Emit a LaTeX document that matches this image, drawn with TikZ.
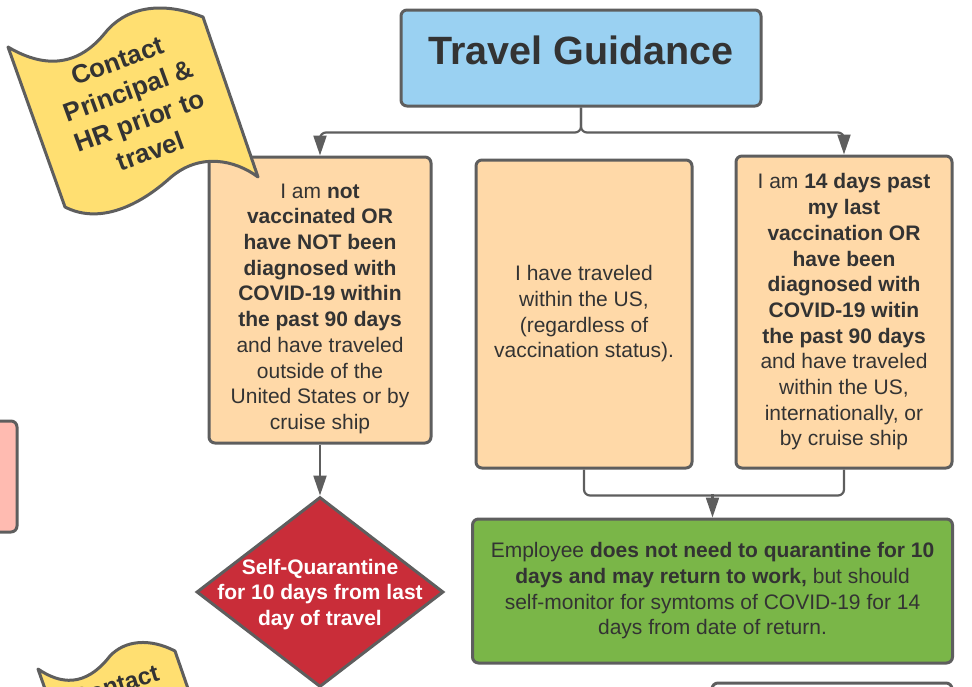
\documentclass[tikz,border=0pt]{standalone}
\usepackage{fontspec}
\setmainfont{Liberation Sans}
\usetikzlibrary{arrows.meta, shapes.geometric}
\definecolor{linegray}{HTML}{5E5E5E}
\definecolor{textgray}{HTML}{333333}
\definecolor{titleblue}{HTML}{9AD1F2}
\definecolor{peach}{HTML}{FFD9A8}
\definecolor{okgreen}{HTML}{7AB648}
\definecolor{stopred}{HTML}{C92D39}
\definecolor{flagyellow}{HTML}{FFDF71}
\definecolor{softpink}{HTML}{FFBBB1}
\newcommand{\bodyfont}{\fontsize{21}{25.7}\selectfont}
\tikzset{box/.style = {shape=rectangle, rounded corners=6pt, draw=linegray, line width=3pt, align=center, text=textgray, font=\bodyfont, inner sep=0pt}}
\tikzset{option/.style = {box, fill=peach}}
\tikzset{decision/.style = {shape=diamond, draw=linegray, line width=3pt, fill=stopred, inner sep=0pt}}
\tikzset{flag/.style = {draw=linegray, line width=3pt, fill=flagyellow, line join=round}}
\tikzset{flagtext/.style = {align=center, text=textgray, font=\fontsize{26}{32}\selectfont\bfseries}}
\tikzset{link/.style = {draw=linegray, line width=2.2pt, rounded corners=6pt}}
\tikzset{edge/.style = {link, -{Triangle[length=20pt, width=13pt]}}}

\begin{document}
\begin{tikzpicture}[x=1pt, y=-1pt]
        \useasboundingbox (0,0) rectangle (972,686);
        \clip (0,0) rectangle (972,686);
        \node[box, fill=titleblue, minimum width=360pt, minimum height=96pt, font=\fontsize{39.5}{47}\selectfont\bfseries, text height=28pt, text depth=16pt] (title) at (581,58) {Travel Guidance};
        \node[option, minimum width=222pt, minimum height=286pt] (notvax) at (320,300) {\rule{0pt}{32pt}I am \textbf{not}\\\textbf{vaccinated OR}\\\textbf{have NOT been}\\\textbf{diagnosed with}\\\textbf{COVID-19 within}\\\textbf{the past 90 days}\\and have traveled\\outside of the\\United States or by\\cruise ship};
        \draw[edge] (title.south) -- ++(0,25) -| (notvax.north);
        \node[option, minimum width=216pt, minimum height=308pt] (domestic) at (584,314) {I have traveled\\within the US,\\(regardless of\\vaccination status).};
        \node[option, minimum width=216pt, minimum height=312pt] (vaxed) at (844,312) {I am \textbf{14 days past}\\\textbf{my last}\\\textbf{vaccination OR}\\\textbf{have been}\\\textbf{diagnosed with}\\\textbf{COVID-19 witin}\\\textbf{the past 90 days}\\and have traveled\\within the US,\\internationally, or\\by cruise ship};
        \draw[edge] (title.south) -- ++(0,25) -| (vaxed.north);
        \node[box, fill=okgreen, minimum width=480pt, minimum height=144pt] (noquar) at (712.5,591) {Employee \textbf{does not need to quarantine for 10}\\\textbf{days and may return to work,} but should\\self-monitor for symtoms of COVID-19 for 14\\days from date of return.};
        \draw[link] (domestic.south) -- ++(0,26) -| (vaxed.south);
        \coordinate (merge) at (712.5,494);
        \draw[edge] (merge) -- (noquar.north);
        \node[decision, minimum width=247pt, minimum height=190pt] (quar) at (320,592) {};
        \node[align=center, text=white, font=\bodyfont\bfseries] (quartext) at ([yshift=-2.5pt]quar.center) {Self-Quarantine\\for 10 days from last\\day of travel};
        \draw[edge] (notvax.south) -- (quar.north);
        \node[box, fill=softpink, minimum width=37pt, minimum height=111pt] (alert) at (-1.5,476.5) {};
        \node[box, fill=white, minimum width=240pt, minimum height=76pt] (nextbox) at (832,721) {};
        \draw[flag] (8,47) .. controls (40,66) and (75,70) .. (105,33) .. controls (125,8) and (160,0) .. (203,17) -- (258,177) .. controls (235,160) and (200,152) .. (170,178) .. controls (140,205) and (100,225) .. (65,207) -- cycle;
        \node[flagtext, rotate=20] (contact) at (134,106) {Contact\\Principal \&\\HR prior to\\travel};
        \draw[flag] (38,669) .. controls (60,684) and (85,688) .. (110,656) .. controls (125,640) and (150,638) .. (175,651) -- (193,703) -- (50,703) -- cycle;
        \node[flagtext, font=\fontsize{24}{30}\selectfont\bfseries, rotate=17, anchor=base east] (contactlow) at (164,679) {Contact};
    \end{tikzpicture}
\end{document}
